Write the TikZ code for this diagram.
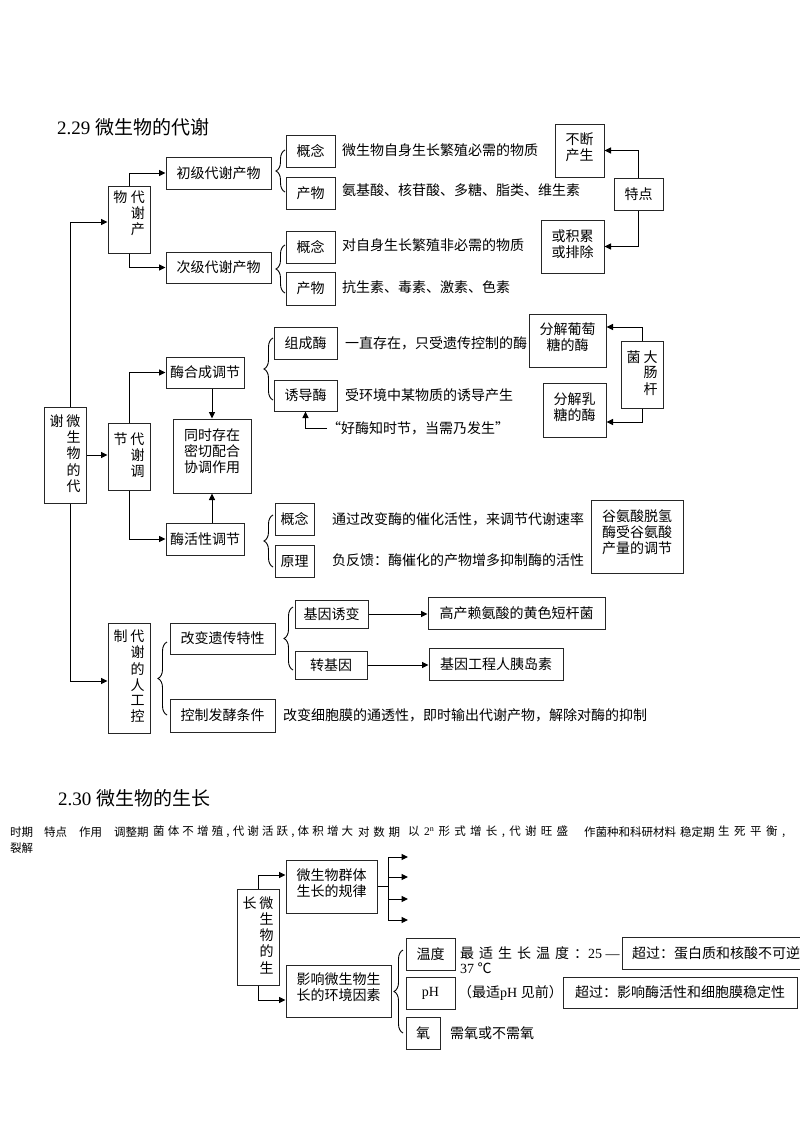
\documentclass[tikz,border=0pt]{standalone}
\usepackage{fontspec}
\setmainfont{Liberation Serif}
\newfontfamily\cjk{Noto Sans CJK SC}
\usetikzlibrary{arrows.meta,decorations.pathreplacing,calc}
\newcommand{\hf}{\hskip 0pt plus 1fil\relax}
\begin{document}
\begin{tikzpicture}[x=1pt,y=-1pt,
  box/.style={draw=black!85, line width=1pt, fill=white, inner sep=0pt, align=center, font=\cjk\fontsize{14}{16}\selectfont},
  wh/.style 2 args={minimum width=#1pt, minimum height=#2pt},
  vt/.style={font=\cjk\fontsize{14}{15}\selectfont},
  tl/.style={inner sep=0pt, align=center, font=\cjk\fontsize{14}{16}\selectfont},
  txt/.style={anchor=west, inner sep=0pt, font=\cjk\fontsize{14}{16}\selectfont},
  small/.style={anchor=west, inner sep=0pt, font=\cjk\fontsize{11.5}{13}\selectfont},
  arr/.style={line width=1pt, -{Triangle[length=6.5pt,width=6pt]}},
  ln/.style={line width=1pt},
  brc/.style={line width=0.9pt, decorate, decoration={brace, amplitude=9pt}},
]
\fill[white] (0,0) rectangle (800,1132);
\useasboundingbox (0,0) rectangle (800,1132);

% ---------- 2.29 ----------
\node[anchor=west, inner sep=0pt, font=\fontsize{19}{22}\selectfont] (title1) at (57,127) {2.29 {\cjk 微生物的代谢}};

\coordinate (ltop) at (70,222);
\coordinate (lbot) at (70,681);
\draw[ln] (ltop) -- (lbot);

% 代谢产物
\node[box, wh={42}{67}] (p) at (129,219.5) {};
\node[tl, vt] (pt) at (129,215) {\begin{tabular}{@{}c@{\hspace{3.5pt}}c@{}}物&代\\&谢\\&产\end{tabular}};
\draw[arr] (ltop) -- (ltop -| p.west);
\node[box, wh={105}{32}] (c1) at (218.5,173) {初级代谢产物};
\node[box, wh={105}{31}] (c2) at (218.5,267.5) {次级代谢产物};
\draw[arr] (p.north) |- (c1.west);
\draw[arr] (p.south) |- (c2.west);

\draw[brc] (285,192) -- (285,150);
\node[box, wh={49}{32}] (g1) at (310.5,151) {概念};
\node[box, wh={49}{32}] (g2) at (310.5,193) {产物};
\node[txt] (t1) at (342,150) {微生物自身生长繁殖必需的物质};
\node[txt] (t2) at (342,190) {氨基酸、核苷酸、多糖、脂类、维生素};

\draw[brc] (285,293) -- (285,245);
\node[box, wh={49}{32}] (g3) at (310.5,247) {概念};
\node[box, wh={49}{33}] (g4) at (310.5,288.5) {产物};
\node[txt] (t3) at (342,245) {对自身生长繁殖非必需的物质};
\node[txt] (t4) at (342,287) {抗生素、毒素、激素、色素};

\node[box, wh={49}{53}] (bd) at (579.5,150.5) {};
\node[tl] (bdt) at (579.5,147) {不断\\产生};
\node[box, wh={49}{32}] (td) at (638.5,194) {特点};
\node[box, wh={63}{53}] (hj) at (572.5,246.5) {};
\node[tl] (hjt) at (572.5,244) {或积累\\或排除};
\draw[arr] (td.north) |- (bd.east);
\draw[arr] (td.south) |- (hj.east);

% 代谢调节
\node[box, vt, wh={42}{96}] (m) at (65,455) {\begin{tabular}{@{}c@{\hspace{3pt}}c@{}}谢&微\\&生\\&物\\&的\\&代\end{tabular}};
\node[box, vt, wh={42}{67}] (j) at (129,456.5) {\begin{tabular}{@{}c@{\hspace{3pt}}c@{}}节&代\\&谢\\&调\end{tabular}};
\draw[arr] (m.east) -- (m.east -| j.west);
\node[box, wh={78}{31}] (e1) at (205,372.5) {酶合成调节};
\node[box, wh={78}{32}] (e2) at (205,539) {酶活性调节};
\node[box, wh={78}{74}] (ts) at (212,456) {};
\node[tl] (tst) at (212,451) {同时存在\\密切配合\\协调作用};
\draw[arr] (j.north) |- (e1.west);
\draw[arr] (j.south) |- (e2.west);
\draw[arr] (ts.north |- e1.south) -- (ts.north);
\draw[arr] (ts.south |- e2.north) -- (ts.south);

\draw[brc] (273,400) -- (273,338);
\node[box, wh={63}{32}] (z1) at (305.5,343) {组成酶};
\node[box, wh={63}{31}] (z2) at (305.5,395.5) {诱导酶};
\node[txt] (t5) at (345,343) {一直存在，只受遗传控制的酶};
\node[txt] (t6) at (345,395) {受环境中某物质的诱导产生};
\node[txt] (t7) at (327,428) {“好酶知时节，当需乃发生”};
\draw[arr] (t7.west) -| (z2.south);

\node[box, wh={77}{53}] (ptf) at (567.5,340.5) {};
\node[tl] (ptft) at (567.5,337) {分解葡萄\\糖的酶};
\node[box, vt, wh={42}{67}] (dc) at (642,374.5) {\begin{tabular}{@{}c@{\hspace{3pt}}c@{}}菌&大\\&肠\\&杆\end{tabular}};
\node[box, wh={63}{54}] (prt) at (574.5,410) {};
\node[tl] (prtt) at (574.5,407) {分解乳\\糖的酶};
\draw[arr] (dc.north) |- ($(ptf.east)+(0,-13.5)$);
\draw[arr] (dc.south) |- ($(prt.east)+(0,12)$);

\draw[brc] (273,567) -- (273,515);
\node[box, wh={39}{32}] (k1) at (294.5,519) {概念};
\node[box, wh={39}{32}] (k2) at (294.5,561) {原理};
\node[txt] (t8) at (332,519) {通过改变酶的催化活性，来调节代谢速率};
\node[txt] (t9) at (332,560) {负反馈：酶催化的产物增多抑制酶的活性};
\node[box, wh={92}{73}] (gu) at (637,536.5) {};
\node[tl] (gut) at (637,532) {谷氨酸脱氢\\酶受谷氨酸\\产量的调节};

% 人工控制
\node[box, vt, wh={42}{110}] (r) at (129,678) {\begin{tabular}{@{}c@{\hspace{3pt}}c@{}}制&代\\&谢\\&的\\&人\\&工\\&控\end{tabular}};
\draw[arr] (lbot) -- (lbot -| r.west);
\draw[brc] (167,715) -- (167,642);
\node[box, wh={105}{31}] (a1) at (222.5,638.5) {改变遗传特性};
\node[box, wh={105}{33}] (a2) at (222.5,715.5) {控制发酵条件};
\node[txt] (t10) at (283,715) {改变细胞膜的通透性，即时输出代谢产物，解除对酶的抑制};
\draw[brc] (293,670) -- (293,607);
\node[box, wh={73}{28}] (y1) at (331.5,614) {基因诱变};
\node[box, wh={72}{28}] (y2) at (331,665) {转基因};
\node[box, wh={177}{32}] (h1) at (516.5,613) {高产赖氨酸的黄色短杆菌};
\node[box, wh={134}{32}] (h2) at (496,664) {基因工程人胰岛素};
\draw[arr] (y1.east) -- (y1.east -| h1.west);
\draw[arr] (y2.east) -- (y2.east -| h2.west);

% ---------- 2.30 ----------
\node[anchor=west, inner sep=0pt, font=\fontsize{19}{22}\selectfont] (title2) at (58,798) {2.30 {\cjk 微生物的生长}};
\node[small] (s1) at (10,832) {时期};
\node[small] (s2) at (44,832) {特点};
\node[small] (s3) at (79,832) {作用};
\node[small] (s4) at (114,832) {调整期};
\node[small] (s5) at (153,832) {\makebox[200pt][s]{菌\hf 体\hf 不\hf 增\hf 殖\hf ,\hf 代\hf 谢\hf 活\hf 跃\hf ,\hf 体\hf 积\hf 增\hf 大}};
\node[small] (s6) at (358,832) {\makebox[42pt][s]{对\hf 数\hf 期}};
\node[small] (s7) at (408,832) {\makebox[160pt][s]{以\hf {\rmfamily 2\textsuperscript{n}}\hf 形\hf 式\hf 增\hf 长\hf ,\hf 代\hf 谢\hf 旺\hf 盛}};
\node[small] (s8) at (584,832) {作菌种和科研材料};
\node[small] (s9) at (680,832) {稳定期};
\node[small] (s10) at (718,832) {\makebox[67pt][s]{生\hf 死\hf 平\hf 衡\hf ,}};
\node[small] (l2) at (10,848) {裂解};

\node[box, vt, wh={42}{96}] (s) at (258,937) {\begin{tabular}{@{}c@{\hspace{3pt}}c@{}}长&微\\&生\\&物\\&的\\&生\end{tabular}};
\node[box, wh={91}{53}] (w1) at (331.5,886.5) {};
\node[tl] (w1t) at (331.5,883) {微生物群体\\生长的规律};
\node[box, wh={105}{52}] (w2) at (338.5,991) {};
\node[tl] (w2t) at (338.5,987) {影响微生物生\\长的环境因素};
\draw[arr] (s.north) |- ($(w1.west)+(0,-11.5)$);
\draw[arr] (s.south) |- ($(w2.west)+(0,9)$);

\foreach \yy [count=\i] in {857,877,899,920} {
  \coordinate (fa\i) at (388,\yy);
  \coordinate (fb\i) at (408,\yy);
  \draw[arr] (fa\i) -- (fb\i);
}
\draw[ln] (fa1) -- (fa4);
\draw[ln] (w1.east) -- (w1.east -| fa1);

\draw[brc] (403,1033) -- (403,950);
\node[box, wh={49}{32}] (q1) at (430.5,954) {温度};
\node[box, wh={49}{32}, font=\fontsize{14}{16}\selectfont] (q2) at (430.5,993) {pH};
\node[box, wh={34}{32}] (q3) at (423,1033) {氧};
\node[txt] (t11) at (460,953) {最\hspace{5pt}适\hspace{5pt}生\hspace{5pt}长\hspace{5pt}温\hspace{5pt}度\hspace{5pt}：{\rmfamily 25 —}};
\node[txt] (t11b) at (460,968) {{\rmfamily 37 }℃};
\node[txt] (t12) at (458,993) {（最适{\rmfamily pH }见前）};
\node[txt] (t13) at (450,1033) {需氧或不需氧};
\node[box, wh={184}{32}] (o1) at (714,953) {};
\node[txt] (o1t) at (632,953) {超过：蛋白质和核酸不可逆};
\node[box, wh={234}{31}] (o2) at (680,992.5) {超过：影响酶活性和细胞膜稳定性};
\end{tikzpicture}
\end{document}
